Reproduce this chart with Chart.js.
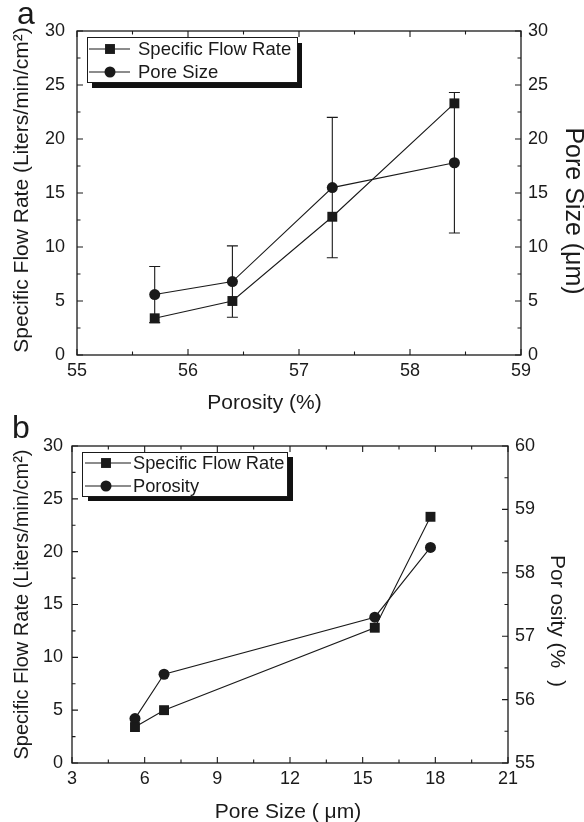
<!DOCTYPE html>
<html><head><meta charset="utf-8">
<script src="https://cdn.jsdelivr.net/npm/chart.js@4/dist/chart.umd.min.js"></script>
<style>
html,body{margin:0;padding:0;background:#fff;}
#wrap{position:relative;width:584px;height:822px;background:#fff;}
canvas{position:absolute;left:0;}
</style></head><body>
<div id="wrap">
<canvas id="ca" width="584" height="420" style="top:0px"></canvas>
<canvas id="cb" width="584" height="417" style="top:405px"></canvas>
</div>
<script>
// ---------- Panel a data ----------
const porosityA = [55.7, 56.4, 57.3, 58.4];
const flowA     = [3.4, 5.0, 12.8, 23.3];
const poreA     = [5.6, 6.8, 15.5, 17.8];
const poreErrA  = [2.6, 3.3, 6.5, 6.5];
const xTicksA   = [55, 56, 57, 58, 59];
const yTicksA   = [0, 5, 10, 15, 20, 25, 30];
const y2TicksA  = [0, 5, 10, 15, 20, 25, 30];

// ---------- Panel b data ----------
const poreB     = [5.6, 6.8, 15.5, 17.8];
const flowB     = [3.4, 5.0, 12.8, 23.3];
const porosityB = [55.7, 56.4, 57.3, 58.4];
const xTicksB   = [3, 6, 9, 12, 15, 18, 21];
const yTicksB   = [0, 5, 10, 15, 20, 25, 30];
const y2TicksB  = [55, 56, 57, 58, 59, 60];

const FONT = "'Liberation Sans', Arial, Helvetica, sans-serif";
const INK = '#1a1a1a';

const deco = {
  id: 'deco',
  beforeDatasetsDraw(chart, args, o) {
    const ctx = chart.ctx, a = chart.chartArea;
    ctx.save();
    ctx.strokeStyle = INK; ctx.lineWidth = 1.3;
    ctx.strokeRect(a.left, a.top, a.right - a.left, a.bottom - a.top);
    ctx.lineWidth = 1.1;
    (o.ticks || []).forEach(t => {
      const s = chart.scales[t.scale];
      const n = Math.round((s.max - s.min) / t.minor);
      ctx.beginPath();
      for (let i = 0; i <= n; i++) {
        const v = s.min + i * t.minor;
        const r = v / t.major;
        const major = Math.abs(r - Math.round(r)) < 1e-6;
        const len = major ? 6 : 3.5;
        const p = s.getPixelForValue(v);
        t.sides.forEach(side => {
          if (side === 'bottom') { ctx.moveTo(p, a.bottom); ctx.lineTo(p, a.bottom - len); }
          if (side === 'top') { ctx.moveTo(p, a.top); ctx.lineTo(p, a.top + len); }
          if (side === 'left') { ctx.moveTo(a.left, p); ctx.lineTo(a.left + len, p); }
          if (side === 'right') { ctx.moveTo(a.right, p); ctx.lineTo(a.right - len, p); }
        });
      }
      ctx.stroke();
    });
    // error bars
    const cap = 5.5;
    chart.data.datasets.forEach(ds => {
      if (!ds.errorBars) return;
      const xs = chart.scales.x, ys = chart.scales[ds.yAxisID];
      ctx.strokeStyle = INK; ctx.lineWidth = 1.1;
      ds.data.forEach((pt, i) => {
        const e = ds.errorBars[i];
        const px = xs.getPixelForValue(pt.x);
        const top = ys.getPixelForValue(pt.y + e), bot = ys.getPixelForValue(pt.y - e);
        ctx.beginPath();
        ctx.moveTo(px, top); ctx.lineTo(px, bot);
        ctx.moveTo(px - cap, top); ctx.lineTo(px + cap, top);
        ctx.moveTo(px - cap, bot); ctx.lineTo(px + cap, bot);
        ctx.stroke();
      });
    });
    ctx.restore();
  },
  afterDraw(chart, args, o) {
    const ctx = chart.ctx;
    ctx.save();
    const L = o.legend;
    if (L) {
      ctx.fillStyle = '#111';
      ctx.fillRect(L.x + L.dx, L.y + L.dy, L.w, L.h);
      ctx.fillStyle = '#fff';
      ctx.fillRect(L.x, L.y, L.w, L.h);
      ctx.strokeStyle = INK; ctx.lineWidth = 1;
      ctx.strokeRect(L.x + 0.5, L.y + 0.5, L.w, L.h);
      chart.data.datasets.forEach((ds, i) => {
        const y = L.y + L.row0 + i * L.rowGap;
        ctx.strokeStyle = INK; ctx.lineWidth = 1.1;
        ctx.beginPath(); ctx.moveTo(L.x + L.s0, y); ctx.lineTo(L.x + L.s1, y); ctx.stroke();
        ctx.fillStyle = INK;
        Chart.helpers.drawPoint(ctx, {pointStyle: ds.pointStyle, radius: ds.pointRadius, borderWidth: 0, rotation: 0}, L.x + L.mx, y);
        ctx.fillStyle = INK;
        ctx.font = L.size + 'px ' + FONT;
        ctx.textAlign = 'left'; ctx.textBaseline = 'middle';
        ctx.fillText(ds.label, L.x + L.tx, y + 1);
      });
    }
    (o.titles || []).forEach(t => {
      ctx.save();
      ctx.translate(t.x, t.y);
      ctx.rotate((t.rot || 0) * Math.PI / 180);
      ctx.font = t.size + 'px ' + FONT;
      ctx.fillStyle = INK;
      ctx.textAlign = t.align || 'center';
      ctx.textBaseline = t.baseline || 'middle';
      ctx.fillText(t.text, 0, 0);
      ctx.restore();
    });
    ctx.restore();
  }
};

function tickOpts(padding) {
  return { font: {size: 18, family: FONT}, color: INK, padding: padding, autoSkip: false, maxRotation: 0 };
}
function setTicks(list) { return s => { s.ticks = list.map(v => ({value: v})); }; }

function makeChart(id, cfg) {
  return new Chart(document.getElementById(id), {
    type: 'line',
    data: { datasets: [
      { label: 'Specific Flow Rate', data: cfg.xs.map((x, i) => ({x: x, y: cfg.y1[i]})), yAxisID: 'y',
        pointStyle: 'rect', pointRadius: 7, pointBackgroundColor: INK, pointBorderWidth: 0,
        borderColor: INK, borderWidth: 1.1, tension: 0, fill: false },
      { label: cfg.label2, data: cfg.xs.map((x, i) => ({x: x, y: cfg.y2[i]})), yAxisID: 'y2',
        pointStyle: 'circle', pointRadius: 5.5, pointBackgroundColor: INK, pointBorderWidth: 0,
        borderColor: INK, borderWidth: 1.1, tension: 0, fill: false, errorBars: cfg.err }
    ]},
    options: {
      responsive: false, animation: false, events: [],
      layout: { padding: { top: cfg.top, left: 0, right: 0, bottom: 0 } },
      plugins: { legend: {display: false}, tooltip: {enabled: false}, deco: cfg.deco },
      scales: {
        x: { type: 'linear', position: 'bottom', min: cfg.xr[0], max: cfg.xr[1],
             grid: {display: false, drawTicks: false}, border: {display: false},
             ticks: tickOpts(5), afterBuildTicks: setTicks(cfg.xt), afterFit: s => { s.height = cfg.xh; } },
        y: { type: 'linear', position: 'left', min: cfg.yr[0], max: cfg.yr[1],
             grid: {display: false, drawTicks: false}, border: {display: false},
             ticks: tickOpts(cfg.lp), afterBuildTicks: setTicks(cfg.yt), afterFit: s => { s.width = cfg.lw; } },
        y2: { type: 'linear', position: 'right', min: cfg.y2r[0], max: cfg.y2r[1],
             grid: {display: false, drawTicks: false}, border: {display: false},
             ticks: tickOpts(7), afterBuildTicks: setTicks(cfg.y2t), afterFit: s => { s.width = cfg.rw; } }
      }
    },
    plugins: [deco]
  });
}

makeChart('ca', {
  xs: porosityA, y1: flowA, y2: poreA, err: poreErrA, label2: 'Pore Size',
  xr: [55, 59], yr: [0, 30], y2r: [0, 30], xt: xTicksA, yt: yTicksA, y2t: y2TicksA,
  top: 31, xh: 65, lw: 77, rw: 63, lp: 12,
  deco: {
    ticks: [
      {scale: 'x', major: 1, minor: 0.5, sides: ['bottom', 'top']},
      {scale: 'y', major: 5, minor: 2.5, sides: ['left']},
      {scale: 'y2', major: 5, minor: 2.5, sides: ['right']}
    ],
    legend: {x: 87, y: 37, w: 210, h: 45, dx: 5, dy: 6, row0: 12, rowGap: 23, s0: 2, s1: 43, mx: 23, tx: 51, size: 18.5},
    titles: [
      {text: 'Specific Flow Rate (Liters/min/cm²)', x: 22, y: 190, rot: -90, size: 21},
      {text: 'Pore Size (μm)', x: 573, y: 211, rot: 90, size: 25},
      {text: 'Porosity (%)', x: 264.5, y: 403, size: 21},
      {text: 'a', x: 17, y: 24, size: 32, align: 'left', baseline: 'alphabetic'}
    ]
  }
});

makeChart('cb', {
  xs: poreB, y1: flowB, y2: porosityB, err: null, label2: 'Porosity',
  xr: [3, 21], yr: [0, 30], y2r: [55, 60], xt: xTicksB, yt: yTicksB, y2t: y2TicksB,
  top: 41, xh: 59, lw: 72, rw: 76, lp: 9,
  deco: {
    ticks: [
      {scale: 'x', major: 3, minor: 1.5, sides: ['bottom', 'top']},
      {scale: 'y', major: 5, minor: 2.5, sides: ['left']},
      {scale: 'y2', major: 1, minor: 0.5, sides: ['right']}
    ],
    legend: {x: 82, y: 47, w: 205, h: 44, dx: 6, dy: 5, row0: 11, rowGap: 23, s0: 3, s1: 49, mx: 24, tx: 51, size: 18.3},
    titles: [
      {text: 'Specific Flow Rate (Liters/min/cm²)', x: 22, y: 199.5, rot: -90, size: 20},
      {text: 'Por osity (%  )', x: 557, y: 216, rot: 90, size: 21},
      {text: 'Pore Size ( μm)', x: 288, y: 407, size: 21},
      {text: 'b', x: 12, y: 33, size: 32, align: 'left', baseline: 'alphabetic'}
    ]
  }
});
</script>
</body></html>
